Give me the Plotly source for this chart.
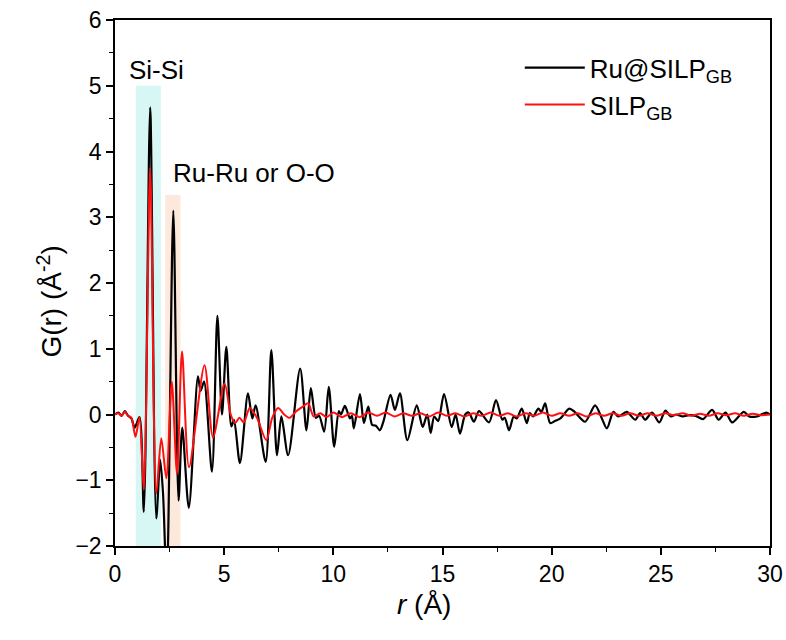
import plotly.graph_objects as go

# ---- data ----
r_black = [0.0, 0.15, 0.3, 0.45, 0.6, 0.75, 0.9, 1.12, 1.32, 1.61, 1.89, 2.07, 2.2, 2.37,
           2.67, 2.91, 3.08, 3.38, 3.8, 3.92, 4.08, 4.44, 4.69, 4.9, 5.1, 5.33, 5.45, 5.72,
           6.09, 6.29, 6.44, 6.9, 7.16, 7.42, 7.62, 7.93, 8.48, 8.77, 8.97, 9.2, 9.35, 9.58,
           9.79, 10.04, 10.25, 10.35, 10.53, 10.76, 10.85, 10.94, 11.22, 11.4, 11.6, 11.78,
           11.95, 12.13, 12.3, 12.62, 12.82, 13.05, 13.39, 13.82, 14.09, 14.3, 14.46, 14.62,
           14.8, 15.07, 15.42, 15.6, 15.8, 16.04, 16.2, 16.44, 16.67, 17.13, 17.45, 17.74,
           17.85, 18.05, 18.26, 18.4, 18.63, 18.86, 19.0, 19.15, 19.39, 19.53, 19.7, 19.93,
           20.15, 20.4, 20.81, 21.05, 21.53, 21.99, 22.3, 22.53, 22.83, 23.05, 23.44, 23.83,
           24.05, 24.28, 24.6, 24.93, 25.21, 25.45, 25.7, 26.0, 26.3, 26.6, 26.93, 27.35,
           27.65, 27.96, 28.27, 28.8, 29.05, 29.4, 29.83, 30.0]
g_black = [0.0, 0.03, -0.02, 0.05, -0.02, -0.06, -0.2, -0.04, -1.48, 4.67, -1.58, -0.69, -1.2, -2.6,
           3.10, -1.31, -0.2, -1.42, 0.58, 0.36, 0.5, -0.87, 1.5, 0.0, 1.03, -0.18, -0.08, -0.74,
           0.32, -0.06, 0.14, -0.72, 0.98, -0.62, -0.03, -0.62, 0.7, -0.24, 0.4, -0.05, -0.02, -0.26,
           0.42, -0.49, 0.05, 0.0, 0.13, -0.06, -0.02, -0.21, 0.31, -0.13, 0.12, -0.16,
           -0.17, -0.24, -0.1, 0.30, 0.07, 0.32, -0.39, 0.14, -0.19, 0.0, -0.28, -0.03,
           -0.1, 0.31, -0.19, 0.0, -0.29, 0.0, 0.03, -0.11, 0.05, -0.12, 0.22, -0.08,
           -0.05, -0.24, -0.03, -0.06, 0.09, -0.13, 0.02, -0.03, 0.09, 0.04, 0.17, -0.13,
           -0.1, -0.06, 0.09, 0.04, -0.11, 0.14, -0.06, -0.21, 0.04, -0.03, 0.04, -0.08,
           0.02, -0.08, 0.03, -0.12, 0.06, -0.03, 0.0, -0.03, -0.01, -0.02, -0.07, 0.07,
           -0.08, 0.03, -0.12, 0.04, -0.03, -0.03, 0.03, 0.0]

r_red = [0.0, 0.15, 0.3, 0.45, 0.6, 0.75, 0.94, 1.12, 1.32, 1.61, 1.89, 2.12, 2.35, 2.6,
         2.84, 3.07, 3.39, 4.1, 4.49, 5.02, 5.3, 5.5, 5.7, 5.9, 6.17, 6.5, 6.93, 7.2, 7.47,
         7.75, 8.0, 8.3, 8.6, 8.85, 9.1, 9.4, 9.7, 10.0, 10.4, 10.8, 11.2, 11.6, 12.0, 12.4,
         12.8, 13.2, 13.6, 14.0, 14.4, 14.8, 15.2, 15.6, 16.0, 16.4, 16.8, 17.2, 17.6, 18.0,
         18.4, 18.8, 19.2, 19.6, 20.0, 20.4, 20.8, 21.2, 21.6, 22.0, 22.4, 22.8, 23.2, 23.6,
         24.0, 24.4, 24.8, 25.2, 25.6, 26.0, 26.4, 26.8, 27.2, 27.6, 28.0, 28.4, 28.8, 29.2,
         29.6, 30.0]
g_red = [0.0, 0.02, -0.02, 0.04, -0.02, -0.05, -0.34, -0.04, -1.15, 3.75, -1.2, -0.36, -0.97, 0.5,
         -0.9, 0.96, -0.8, 0.75, -0.35, 0.47, 0.0, -0.13, -0.05, -0.12, 0.1, -0.05, -0.39, -0.05, 0.1,
         0.0, -0.05, 0.05, 0.12, 0.17, -0.03, 0.02, -0.04, 0.03, -0.04, 0.02, -0.04, 0.03, -0.02, 0.03,
         -0.03, 0.02, -0.02, 0.02, -0.03, 0.03, -0.02, 0.02, -0.03, 0.02, -0.02, 0.03, -0.02, 0.02,
         -0.03, 0.02, -0.02, 0.03, -0.02, 0.02, -0.02, 0.02, -0.03, 0.02, -0.02, 0.02, -0.02, 0.02,
         -0.02, 0.02, -0.02, 0.02, -0.01, 0.02, -0.02, 0.01, -0.02, 0.02, -0.01, 0.02, -0.02, 0.01,
         -0.01, 0.0]

band_si = [0.95, 2.1, 5.0]      # x0, x1, top
band_ru = [2.3, 3.0, 3.34]

x_ticks = [0, 5, 10, 15, 20, 25, 30]
y_ticks = [-2, -1, 0, 1, 2, 3, 4, 5, 6]

FONT = "Liberation Sans, Arial, sans-serif"

fig = go.Figure()
fig.add_trace(go.Scatter(x=r_black, y=g_black, mode="lines", name="Ru@SILP<sub>GB</sub>",
                         line=dict(color="black", width=2.2, shape="spline", smoothing=0.8)))
fig.add_trace(go.Scatter(x=r_red, y=g_red, mode="lines", name="SILP<sub>GB</sub>",
                         line=dict(color="#ff1010", width=2, shape="spline", smoothing=0.8)))

fig.add_shape(type="rect", xref="x", yref="y", x0=band_si[0], x1=band_si[1], y0=-2, y1=band_si[2],
              fillcolor="#d6f7f4", line_width=0, layer="below")
fig.add_shape(type="rect", xref="x", yref="y", x0=band_ru[0], x1=band_ru[1], y0=-2, y1=band_ru[2],
              fillcolor="#fde9dc", line_width=0, layer="below")

fig.add_annotation(x=0.55, y=5.24, xref="x", yref="y", text="Si-Si", showarrow=False,
                   xanchor="left", yanchor="middle", font=dict(family=FONT, size=26, color="black"))
fig.add_annotation(x=2.55, y=3.67, xref="x", yref="y", text="Ru-Ru or O-O", showarrow=False,
                   xanchor="left", yanchor="middle", font=dict(family=FONT, size=26, color="black"))

# axis titles
fig.add_annotation(x=0.472, y=-0.112, xref="paper", yref="paper", text="<i>r</i> (Å)", showarrow=False,
                   xanchor="center", yanchor="middle", font=dict(family=FONT, size=28, color="black"))
fig.add_annotation(x=-0.099, y=0.465, xref="paper", yref="paper", text="G(r) (Å<sup>-2</sup>)",
                   showarrow=False, textangle=-90, xanchor="center", yanchor="middle",
                   font=dict(family=FONT, size=28, color="black"))

axis_common = dict(showline=True, linecolor="black", linewidth=1.5, mirror=True,
                   ticks="outside", ticklen=7, tickwidth=1.5, tickcolor="black",
                   showgrid=False, zeroline=False, automargin=False,
                   tickfont=dict(family=FONT, size=23, color="black"),
                   minor=dict(ticks="outside", ticklen=4, tickwidth=1.2, tickcolor="black"))

fig.update_xaxes(range=[0, 30], tickvals=x_ticks, minor_dtick=2.5, **axis_common)
fig.update_yaxes(range=[-2, 6], tickvals=y_ticks, minor_dtick=0.5, **axis_common)

fig.update_layout(
    width=786, height=640,
    margin=dict(l=115, r=16, t=20, b=94),
    paper_bgcolor="white", plot_bgcolor="white",
    showlegend=True,
    legend=dict(x=0.618, y=0.954, xanchor="left", yanchor="top",
                font=dict(family=FONT, size=26, color="black"),
                bgcolor="rgba(0,0,0,0)", tracegroupgap=0, itemwidth=60),
)

fig.write_html("out.html")
